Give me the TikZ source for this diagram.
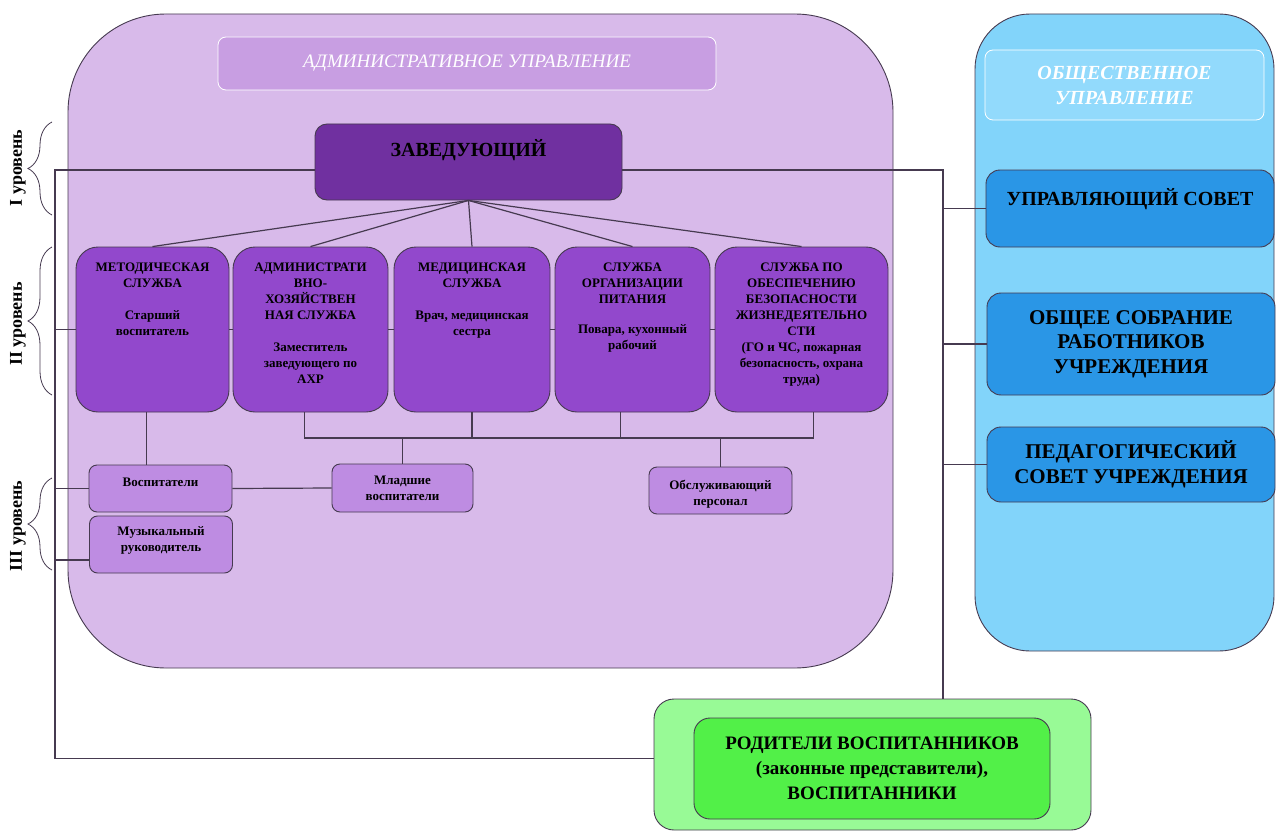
\documentclass[tikz,border=0pt]{standalone}
\usepackage{fontspec}
\setmainfont{Liberation Serif}
\usetikzlibrary{decorations.pathreplacing}
\definecolor{admfill}{RGB}{216,186,234}
\definecolor{admhead}{RGB}{200,158,226}
\definecolor{chieffill}{RGB}{112,48,160}
\definecolor{svcfill}{RGB}{146,72,204}
\definecolor{stafffill}{RGB}{190,140,226}
\definecolor{pubfill}{RGB}{130,212,250}
\definecolor{pubhead}{RGB}{146,218,252}
\definecolor{councilfill}{RGB}{42,150,230}
\definecolor{greenout}{RGB}{152,250,150}
\definecolor{greenin}{RGB}{82,240,72}
\definecolor{linecol}{RGB}{70,58,80}
\tikzset{
        area/.style={draw=linecol, line width=0.9pt, fill=#1, inner sep=0pt},
        headbox/.style={draw=white, line width=0.8pt, rounded corners=8pt, fill=#1, text=white, inner sep=0pt, align=center},
        chief/.style={draw=linecol, line width=0.9pt, fill=chieffill, rounded corners=12pt, inner sep=0pt},
        service/.style={draw=linecol, line width=0.9pt, fill=svcfill, rounded corners=22pt, minimum width=#1, minimum height=165pt, inner sep=0pt},
        staff/.style={draw=linecol, line width=0.9pt, fill=stafffill, rounded corners=8pt, minimum width=143pt, inner sep=0pt},
        council/.style={draw=linecol, line width=0.9pt, fill=councilfill, rounded corners=14pt, minimum width=288pt, inner sep=0pt, align=center, font=\bfseries\fontsize{21}{24.5}\selectfont},
        boxtext/.style={anchor=north, align=center, inner sep=0pt, font=\bfseries\fontsize{13}{16}\selectfont},
        stafftext/.style={anchor=north, align=center, inner sep=0pt, font=\bfseries\fontsize{13}{16}\selectfont},
        lvltext/.style={rotate=90, inner sep=0pt, font=\bfseries\fontsize{18}{20}\selectfont},
        lvlbrace/.style={draw=linecol, line width=0.8pt, decorate, decoration={brace, amplitude=24pt}}
          }
\begin{document}
\begin{tikzpicture}
        [x=1pt, y=-1pt,
        conn/.style={draw=linecol, line width=1.2pt},
        ]
        \useasboundingbox (0,0) rectangle (1276,832);
        \node[area=admfill, rounded corners=98pt, minimum width=825pt, minimum height=654pt] (admarea) at (480.5,341) {};
        \node[area=pubfill, rounded corners=55pt, minimum width=299pt, minimum height=637pt] (pubarea) at (1124.5,332.5) {};
        \node[area=greenout, rounded corners=20pt, minimum width=437pt, minimum height=131pt] (parentsout) at (872.5,764.5) {};
        \node[area=greenin, rounded corners=16pt, minimum width=356pt, minimum height=101pt, align=center,
          font=\bfseries\fontsize{19}{25}\selectfont] (parentsin) at (872,768.5)
          {РОДИТЕЛИ ВОСПИТАННИКОВ\\(законные представители),\\ВОСПИТАННИКИ};
        \node[headbox=admhead, minimum width=498pt, minimum height=53pt, font=\itshape\fontsize{19}{22}\selectfont] (admhead) at (467,63.5) {АДМИНИСТРАТИВНОЕ УПРАВЛЕНИЕ};
        \node[headbox=pubhead, minimum width=279pt, minimum height=70pt, font=\bfseries\itshape\fontsize{20}{25}\selectfont] (pubhead) at (1124.5,85) {ОБЩЕСТВЕННОЕ\\УПРАВЛЕНИЕ};

        \node[chief, minimum width=307pt, minimum height=76pt] (chief) at (468.5,162) {};
        \node[boxtext, font=\bfseries\fontsize{20}{24}\selectfont] (chief-t) at ([yshift=-16pt]chief.north) {ЗАВЕДУЮЩИЙ};

        \node[service=153pt] (metod) at (152.5,329.5) {};
        \node[service=155pt] (admin) at (310.5,329.5) {};
        \node[service=156pt] (med) at (472,329.5) {};
        \node[service=155pt] (pit) at (632.5,329.5) {};
        \node[service=173pt] (safety) at (801.5,329.5) {};
        \node[boxtext] (metod-t) at ([yshift=-16pt]metod.north) {МЕТОДИЧЕСКАЯ\\СЛУЖБА\\[16pt]Старший\\воспитатель};
        \node[boxtext] (admin-t) at ([yshift=-16pt]admin.north) {АДМИНИСТРАТИ\\ВНО-\\ХОЗЯЙСТВЕН\\НАЯ СЛУЖБА\\[16pt]Заместитель\\заведующего по\\АХР};
        \node[boxtext] (med-t) at ([yshift=-16pt]med.north) {МЕДИЦИНСКАЯ\\СЛУЖБА\\[16pt]Врач, медицинская\\сестра};
        \node[boxtext] (pit-t) at ([yshift=-16pt]pit.north) {СЛУЖБА\\ОРГАНИЗАЦИИ\\ПИТАНИЯ\\[14pt]Повара, кухонный\\рабочий};
        \node[boxtext] (safety-t) at ([yshift=-16pt]safety.north) {СЛУЖБА ПО\\ОБЕСПЕЧЕНИЮ\\БЕЗОПАСНОСТИ\\ЖИЗНЕДЕЯТЕЛЬНО\\СТИ\\(ГО и ЧС, пожарная\\безопасность, охрана\\труда)};

        \node[staff, minimum height=47pt] (vosp) at (160.5,488.5) {};
        \node[staff, minimum height=57pt] (muz) at (161,544.5) {};
        \node[staff, minimum width=141pt, minimum height=48pt] (mlad) at (402.5,488) {};
        \node[staff, minimum height=47pt] (obsl) at (720.5,490.5) {};
        \node[stafftext] (vosp-t) at ([yshift=-13pt]vosp.north) {Воспитатели};
        \node[stafftext] (muz-t) at ([yshift=-11pt]muz.north) {Музыкальный\\руководитель};
        \node[stafftext] (mlad-t) at ([yshift=-12pt]mlad.north) {Младшие\\воспитатели};
        \node[stafftext] (obsl-t) at ([yshift=-13pt]obsl.north) {Обслуживающий\\персонал};

        \node[council, minimum height=77pt] (usovet) at (1130,208.5) {};
        \node[boxtext, font=\bfseries\fontsize{20}{24}\selectfont] (usovet-t) at ([yshift=-19pt]usovet.north) {УПРАВЛЯЮЩИЙ СОВЕТ};
        \node[council, minimum height=102pt] (obsh) at (1131,344) {ОБЩЕЕ СОБРАНИЕ\\РАБОТНИКОВ\\УЧРЕЖДЕНИЯ};
        \node[council, minimum height=75pt] (ped) at (1131,464.5) {ПЕДАГОГИЧЕСКИЙ\\СОВЕТ УЧРЕЖДЕНИЯ};

        \coordinate (lbus) at (55,170);
        \coordinate (rbus) at (943,170);
        \coordinate (bus) at (0,438);
        \coordinate (lbusmuz) at (55,560);
        \coordinate (admin-b) at ([xshift=-6pt]admin.south);
        \coordinate (pit-b) at ([xshift=-12pt]pit.south);
        \coordinate (safety-b) at ([xshift=12pt]safety.south);
        \coordinate (metod-b) at ([xshift=-6pt]metod.south);
        \draw[conn] (chief.west |- lbus) -- (lbus) |- ([yshift=6pt]parentsout.west);
        \draw[conn] (chief.east |- rbus) -- (rbus) -- (rbus |- parentsout.north);
        \foreach \c in {usovet, obsh, ped}
          \draw[conn] (rbus |- \c.west) -- (\c.west);
        \draw[conn] (lbus |- metod.west) -- (metod.west);
        \draw[conn] (lbus |- vosp.west) -- (vosp.west);
        \draw[conn] (lbusmuz) -- (lbusmuz -| muz.west);
        \foreach \s in {metod, admin, med, pit, safety}
          \draw[conn] (chief.south) -- (\s.north);
        \foreach \a/\b in {metod/admin, admin/med, med/pit, pit/safety}
          \draw[conn] (\a.east) -- (\b.west);
        \draw[conn] (admin-b) |- (safety-b |- bus) -- (safety-b);
        \draw[conn] (med.south) -- (med.south |- bus);
        \draw[conn] (pit-b) -- (pit-b |- bus);
        \draw[conn] (mlad.north) -- (mlad.north |- bus);
        \draw[conn] (obsl.north) -- (obsl.north |- bus);
        \draw[conn] (metod-b) -- (metod-b |- vosp.north);
        \draw[conn] (vosp.east) -- (mlad.west);

        \draw[lvlbrace] (52,215) -- (52,122);
        \draw[lvlbrace] (52,395) -- (52,247);
        \draw[lvlbrace] (52,570) -- (52,478);
        \node[lvltext] (lvl1) at (18,168) {I уровень};
        \node[lvltext] (lvl2) at (18,324) {II уровень};
        \node[lvltext] (lvl3) at (18,526) {III уровень};
\end{tikzpicture}
\end{document}
